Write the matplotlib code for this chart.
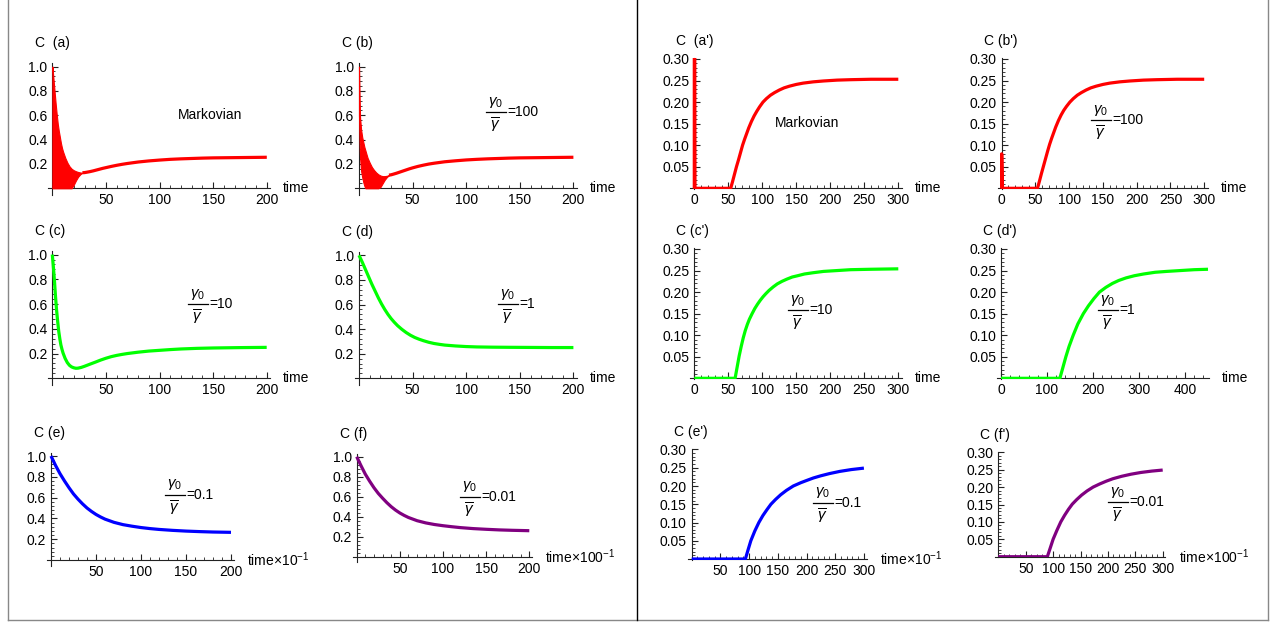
import matplotlib.pyplot as plt
from matplotlib.ticker import FixedLocator
from matplotlib.lines import Line2D
import numpy as np

plt.rcParams['font.family'] = ['Liberation Sans', 'DejaVu Sans']
plt.rcParams['mathtext.fontset'] = 'custom'
plt.rcParams['mathtext.rm'] = 'Liberation Sans'
plt.rcParams['mathtext.it'] = 'Liberation Sans:italic'
plt.rcParams['mathtext.sf'] = 'Liberation Sans'
plt.rcParams['font.size'] = 10

W, H = 1276, 626
RED, GREEN, BLUE, PURPLE = '#ff0000', '#00ff00', '#0000ff', '#800080'

# ---------------- values ----------------
# (a) Markovian: oscillating band near t=0, then smooth curve
band_a_t  = [0, 1, 2, 3, 4, 5, 6, 7, 8, 9, 10, 12, 14, 16, 18, 20, 22, 24, 26, 28]
band_a_hi = [1.0, 0.9, 0.8, 0.7, 0.61, 0.53, 0.47, 0.42, 0.37, 0.33, 0.3, 0.25, 0.21,
             0.18, 0.16, 0.148, 0.14, 0.134, 0.13, 0.128]
band_a_lo = [0, 0, 0, 0, 0, 0, 0, 0, 0, 0, 0, 0, 0, 0, 0, 0.03, 0.065, 0.095, 0.115, 0.128]
t_a = [28, 30, 32, 35, 38, 41, 44, 47, 50, 55, 60, 65, 70, 75, 80, 90, 100, 110, 120,
       130, 140, 150, 160, 170, 180, 190, 200]
c_a = [0.128, 0.129, 0.132, 0.137, 0.143, 0.15, 0.157, 0.164, 0.17, 0.18, 0.189, 0.197,
       0.204, 0.21, 0.216, 0.225, 0.232, 0.238, 0.242, 0.245, 0.248, 0.25, 0.251, 0.252,
       0.253, 0.254, 0.255]

# (b) gamma0/gamma = 100
band_b_t  = [0, 0.5, 1, 2, 3, 4, 5, 6, 8, 10, 12, 14, 16, 18, 20, 22, 24, 26, 28]
band_b_hi = [1.0, 0.75, 0.58, 0.48, 0.42, 0.38, 0.34, 0.31, 0.25, 0.21, 0.175, 0.15,
             0.13, 0.115, 0.105, 0.1, 0.1, 0.103, 0.108]
band_b_lo = [0.6, 0.4, 0.25, 0.14, 0.09, 0.05, 0.02, 0, 0, 0, 0, 0, 0, 0, 0.01, 0.04,
             0.07, 0.092, 0.108]
t_b = [28, 30, 32, 35, 38, 41, 44, 47, 50, 55, 60, 65, 70, 75, 80, 90, 100, 110, 120,
       130, 140, 150, 160, 170, 180, 190, 200]
c_b = [0.108, 0.111, 0.116, 0.124, 0.133, 0.142, 0.151, 0.16, 0.168, 0.18, 0.19, 0.199,
       0.206, 0.212, 0.218, 0.226, 0.233, 0.238, 0.242, 0.245, 0.248, 0.25, 0.251, 0.252,
       0.253, 0.254, 0.255]

# (c) gamma0/gamma = 10
t_c = [0, 1, 2, 3, 4, 5, 6, 7, 8, 9, 10, 12, 14, 16, 18, 20, 22, 24, 27, 30, 33, 36,
       40, 45, 50, 55, 60, 65, 70, 80, 90, 100, 110, 120, 135, 150, 175, 200]
c_c = [1.0, 0.9, 0.79, 0.66, 0.55, 0.46, 0.38, 0.32, 0.27, 0.235, 0.205, 0.16, 0.127,
       0.105, 0.092, 0.085, 0.081, 0.082, 0.088, 0.097, 0.107, 0.117, 0.13, 0.147,
       0.162, 0.175, 0.185, 0.193, 0.2, 0.211, 0.22, 0.226, 0.232, 0.237, 0.242, 0.245,
       0.248, 0.25]

# (d) gamma0/gamma = 1
t_d = [0, 3, 6, 9, 12, 15, 18, 21, 24, 27, 30, 33, 36, 40, 44, 48, 52, 56, 60, 65, 70,
       75, 80, 90, 100, 110, 125, 140, 160, 180, 200]
c_d = [1.0, 0.945, 0.885, 0.825, 0.765, 0.71, 0.655, 0.605, 0.56, 0.52, 0.485, 0.455,
       0.428, 0.398, 0.372, 0.35, 0.332, 0.318, 0.306, 0.293, 0.283, 0.276, 0.27, 0.263,
       0.258, 0.255, 0.253, 0.252, 0.251, 0.25, 0.25]

# (e) gamma0/gamma = 0.1   (time x 10^-1)
t_e = [0, 5, 10, 15, 20, 25, 30, 35, 40, 45, 50, 55, 60, 70, 80, 90, 100, 110, 120,
       135, 150, 165, 180, 200]
c_e = [1.0, 0.91, 0.83, 0.76, 0.695, 0.635, 0.585, 0.54, 0.5, 0.467, 0.438, 0.414,
       0.393, 0.362, 0.34, 0.325, 0.312, 0.302, 0.294, 0.285, 0.278, 0.273, 0.269, 0.266]

# (f) gamma0/gamma = 0.01  (time x 100^-1)
t_f = [0, 5, 10, 15, 20, 25, 30, 35, 40, 45, 50, 55, 60, 70, 80, 90, 100, 110, 120,
       135, 150, 165, 180, 200]
c_f = [1.0, 0.91, 0.825, 0.755, 0.69, 0.633, 0.585, 0.54, 0.5, 0.466, 0.437, 0.413,
       0.392, 0.36, 0.338, 0.322, 0.31, 0.3, 0.291, 0.281, 0.274, 0.268, 0.264, 0.26]

# (a') Markovian (spike at t=0 runs off the top)
t_a2 = [0, 0, 1, 53.5, 56, 59, 62, 65, 68, 71, 74, 77, 80, 84, 88, 92, 96, 101, 106,
        112, 118, 125, 132, 140, 150, 160, 175, 190, 210, 230, 260, 300]
c_a2 = [0, 1.0, 0, 0, 0.014, 0.032, 0.05, 0.066, 0.083, 0.1, 0.114, 0.127, 0.14, 0.155,
        0.168, 0.179, 0.189, 0.2, 0.208, 0.216, 0.222, 0.228, 0.233, 0.237, 0.241, 0.244,
        0.247, 0.249, 0.251, 0.252, 0.253, 0.253]

# (b') 100
t_b2 = [0, 0, 1, 53, 56, 59, 62, 65, 68, 71, 74, 77, 80, 84, 88, 92, 96, 101, 106, 112,
        118, 125, 132, 140, 150, 160, 175, 190, 210, 230, 260, 300]
c_b2 = [0, 0.08, 0, 0, 0.017, 0.035, 0.052, 0.069, 0.086, 0.102, 0.116, 0.129, 0.142,
        0.157, 0.17, 0.181, 0.19, 0.2, 0.208, 0.216, 0.222, 0.228, 0.233, 0.237, 0.241,
        0.244, 0.247, 0.249, 0.251, 0.252, 0.253, 0.253]

# (c') 10
t_c2 = [0, 60, 63, 66, 69, 72, 75, 78, 81, 85, 89, 93, 97, 101, 105, 110, 116, 122, 129,
        136, 144, 152, 162, 175, 190, 210, 230, 260, 300]
c_c2 = [0, 0, 0.026, 0.052, 0.074, 0.094, 0.111, 0.125, 0.137, 0.15, 0.162, 0.172, 0.181,
        0.189, 0.196, 0.204, 0.212, 0.219, 0.225, 0.23, 0.235, 0.238, 0.242, 0.245, 0.248,
        0.25, 0.252, 0.253, 0.254]

# (d') 1
t_d2 = [0, 128, 134, 141, 148, 157, 167, 179, 190, 202, 214, 228, 242, 256, 272, 290,
        310, 335, 360, 390, 420, 450]
c_d2 = [0, 0, 0.023, 0.05, 0.074, 0.1, 0.126, 0.15, 0.168, 0.185, 0.2, 0.211, 0.22,
        0.227, 0.233, 0.238, 0.242, 0.246, 0.248, 0.25, 0.252, 0.253]

# (e') 0.1
t_e2 = [0, 93.5, 98, 103, 110, 117, 124, 131, 138, 146, 155, 165, 177, 190, 200, 212,
        225, 240, 258, 278, 300]
c_e2 = [0, 0, 0.024, 0.05, 0.077, 0.1, 0.119, 0.135, 0.15, 0.163, 0.176, 0.188, 0.2,
        0.209, 0.215, 0.222, 0.228, 0.234, 0.24, 0.245, 0.249]

# (f') 0.01
t_f2 = [0, 89.5, 95, 100, 107, 114, 121, 128, 135, 143, 152, 162, 173, 185, 197, 209,
        225, 242, 260, 280, 300]
c_f2 = [0, 0, 0.026, 0.05, 0.076, 0.1, 0.119, 0.136, 0.151, 0.164, 0.177, 0.189, 0.2,
        0.209, 0.217, 0.224, 0.231, 0.237, 0.242, 0.246, 0.249]

left_yticks = [0.2, 0.4, 0.6, 0.8, 1.0]
left_yticklabels = ['0.2', '0.4', '0.6', '0.8', '1.0']
right_yticks = [0.05, 0.10, 0.15, 0.20, 0.25, 0.30]
right_yticklabels = ['0.05', '0.10', '0.15', '0.20', '0.25', '0.30']

ratios = ['=100', '=10', '=1', '=0.1', '=0.01']
T1 = 'time×10$^{-1}$'
T2 = 'time×100$^{-1}$'

# ---------------- layout (pixel geometry of each panel) ----------------
# geo: pixel of t=0, px per unit t, pixel of C=0, px per unit C
# ann: text, left x px, centre y px (fraction bar position for ratio labels)
panels = [
    dict(lab='C  (a)', t=t_a, c=c_a, band=(band_a_t, band_a_lo, band_a_hi), col=RED,
         geo=(52.4, 1.072, 188.3, 121.7), side='L', xl='time', ann=('Markovian', 178, 115), xt0=False),
    dict(lab='C (b)', t=t_b, c=c_b, band=(band_b_t, band_b_lo, band_b_hi), col=RED,
         geo=(359, 1.072, 188.3, 121.7), side='L', xl='time', ann=(ratios[0], 486, 112), xt0=False),
    dict(lab='C (c)', t=t_c, c=c_c, col=GREEN,
         geo=(52.3, 1.072, 378.3, 123.75), side='L', xl='time', ann=(ratios[1], 188, 304), xt0=False),
    dict(lab='C (d)', t=t_d, c=c_d, col=GREEN,
         geo=(359, 1.072, 378.3, 123.0), side='L', xl='time', ann=(ratios[2], 498, 304), xt0=False),
    dict(lab='C (e)', t=t_e, c=c_e, col=BLUE,
         geo=(51, 0.9, 560, 104), side='L', xl=T1, ann=(ratios[3], 165, 495), xt0=False),
    dict(lab='C (f)', t=t_f, c=c_f, col=PURPLE,
         geo=(356.7, 0.863, 556.7, 100), side='L', xl=T2, ann=(ratios[4], 460, 497), xt0=False),
    dict(lab="C  (a')", t=t_a2, c=c_a2, col=RED,
         geo=(694.3, 0.68, 188.3, 431), side='R', xl='time', ann=('Markovian', 775, 123), xt0=True),
    dict(lab="C (b')", t=t_b2, c=c_b2, col=RED,
         geo=(1001.7, 0.675, 188.3, 431), side='R', xl='time', ann=(ratios[0], 1091, 120), xt0=True),
    dict(lab="C (c')", t=t_c2, c=c_c2, col=GREEN,
         geo=(694.3, 0.68, 378.3, 431), side='R', xl='time', ann=(ratios[1], 788, 310), xt0=True),
    dict(lab="C (d')", t=t_d2, c=c_d2, col=GREEN,
         geo=(1001, 0.46, 378.3, 431), side='R4', xl='time', ann=(ratios[2], 1098, 310), xt0=True),
    dict(lab="C (e')", t=t_e2, c=c_e2, col=BLUE,
         geo=(691.7, 0.574, 559, 365), side='R', xl=T1, ann=(ratios[3], 813, 503), xt0=False),
    dict(lab="C (f')", t=t_f2, c=c_f2, col=PURPLE,
         geo=(998.3, 0.548, 556.7, 348), side='R', xl=T2, ann=(ratios[4], 1108, 502), xt0=False),
]

fig = plt.figure(figsize=(W / 100, H / 100), dpi=100)


def fx(px):
    return px / W


def fy(py):
    return 1 - py / H


def ratio_label(txt, xl, yb):
    # gamma_0 over gamma-bar, then "=value", drawn as a stacked fraction
    bw = 20
    fig.text(fx(xl + bw / 2), fy(yb - 10), r'$\gamma_0$', ha='center', va='center', fontsize=11)
    fig.add_artist(Line2D([fx(xl), fx(xl + bw)], [fy(yb), fy(yb)], color='black', lw=0.9,
                          transform=fig.transFigure))
    fig.text(fx(xl + bw / 2 - 1), fy(yb + 13), r'$\overline{\gamma}$', ha='center', va='center',
             fontsize=11)
    fig.text(fx(xl + bw + 1), fy(yb), txt, ha='left', va='center', fontsize=10)


for p in panels:
    x0, xs, y0, ys = p['geo']
    if p['side'] == 'L':
        xlim, ylim = (-4, 203), (-0.055, 1.03)
        xmaj = [50, 100, 150, 200]
        xmin = list(range(0, 201, 10))
        ymaj, ylabs = left_yticks, left_yticklabels
        ymin = list(np.arange(0, 1.001, 0.04))
    else:
        ylim = (-0.002, 0.302)
        ymaj, ylabs = right_yticks, right_yticklabels
        ymin = list(np.arange(0, 0.3001, 0.01))
        if p['side'] == 'R4':
            xlim = (-9, 452)
            xmaj = [0, 100, 200, 300, 400]
            xmin = list(range(0, 451, 20))
        else:
            xlim = (-6, 305)
            xmaj = [0, 50, 100, 150, 200, 250, 300] if p['xt0'] else [50, 100, 150, 200, 250, 300]
            xmin = list(range(0, 301, 10))

    left = x0 + xlim[0] * xs
    right = x0 + xlim[1] * xs
    top = y0 - ylim[1] * ys
    bot = y0 - ylim[0] * ys
    ax = fig.add_axes([fx(left), fy(bot), (right - left) / W, (bot - top) / H])
    ax.set_xlim(*xlim)
    ax.set_ylim(*ylim)
    ax.patch.set_alpha(0)

    for s in ('top', 'right'):
        ax.spines[s].set_visible(False)
    ax.spines['left'].set_position(('data', 0))
    ax.spines['bottom'].set_position(('data', 0))
    for s in ('left', 'bottom'):
        ax.spines[s].set_linewidth(0.8)
        ax.spines[s].set_color('#222222')

    ax.xaxis.set_major_locator(FixedLocator(xmaj))
    ax.set_xticklabels([str(v) for v in xmaj])
    ax.xaxis.set_minor_locator(FixedLocator(xmin))
    ax.yaxis.set_major_locator(FixedLocator(ymaj))
    ax.set_yticklabels(ylabs)
    ax.yaxis.set_minor_locator(FixedLocator(ymin))
    ax.tick_params(which='major', direction='in', length=4, width=0.8, pad=3.5,
                   labelsize=10, color='#222222')
    ax.tick_params(which='minor', direction='in', length=2, width=0.6, color='#222222')

    if 'band' in p:
        bt, blo, bhi = p['band']
        ax.fill_between(bt, blo, bhi, color=p['col'], lw=0.8, zorder=3)
    ax.plot(p['t'], p['c'], color=p['col'], lw=2.3, zorder=4,
            solid_capstyle='butt', solid_joinstyle='round')

    ax.annotate(p['xl'], xy=(xlim[1], 0), xycoords='data', xytext=(9.5, 0),
                textcoords='offset points', ha='left', va='center', fontsize=10,
                annotation_clip=False)

    if p['side'] == 'L':
        fig.text(fx(x0 - 17), fy(top - 20), p['lab'], ha='left', va='center', fontsize=10)
    else:
        fig.text(fx(x0 - 18), fy(top - 17), p['lab'], ha='left', va='center', fontsize=10)

    txt, ax_px, ay_px = p['ann']
    if txt == 'Markovian':
        fig.text(fx(ax_px), fy(ay_px), txt, ha='left', va='center', fontsize=10)
    else:
        ratio_label(txt, ax_px, ay_px)

# outer frame and divider
for (xa, ya, xb, yb, c) in [(8, 0, 8, 620, '#888888'), (8, 620, 1268, 620, '#888888'),
                            (1268, 0, 1268, 620, '#888888'), (637, 0, 637, 620, '#000000')]:
    fig.add_artist(Line2D([fx(xa), fx(xb)], [fy(ya), fy(yb)], color=c, lw=1.0,
                          transform=fig.transFigure))

fig.savefig('out.png', dpi=100)
